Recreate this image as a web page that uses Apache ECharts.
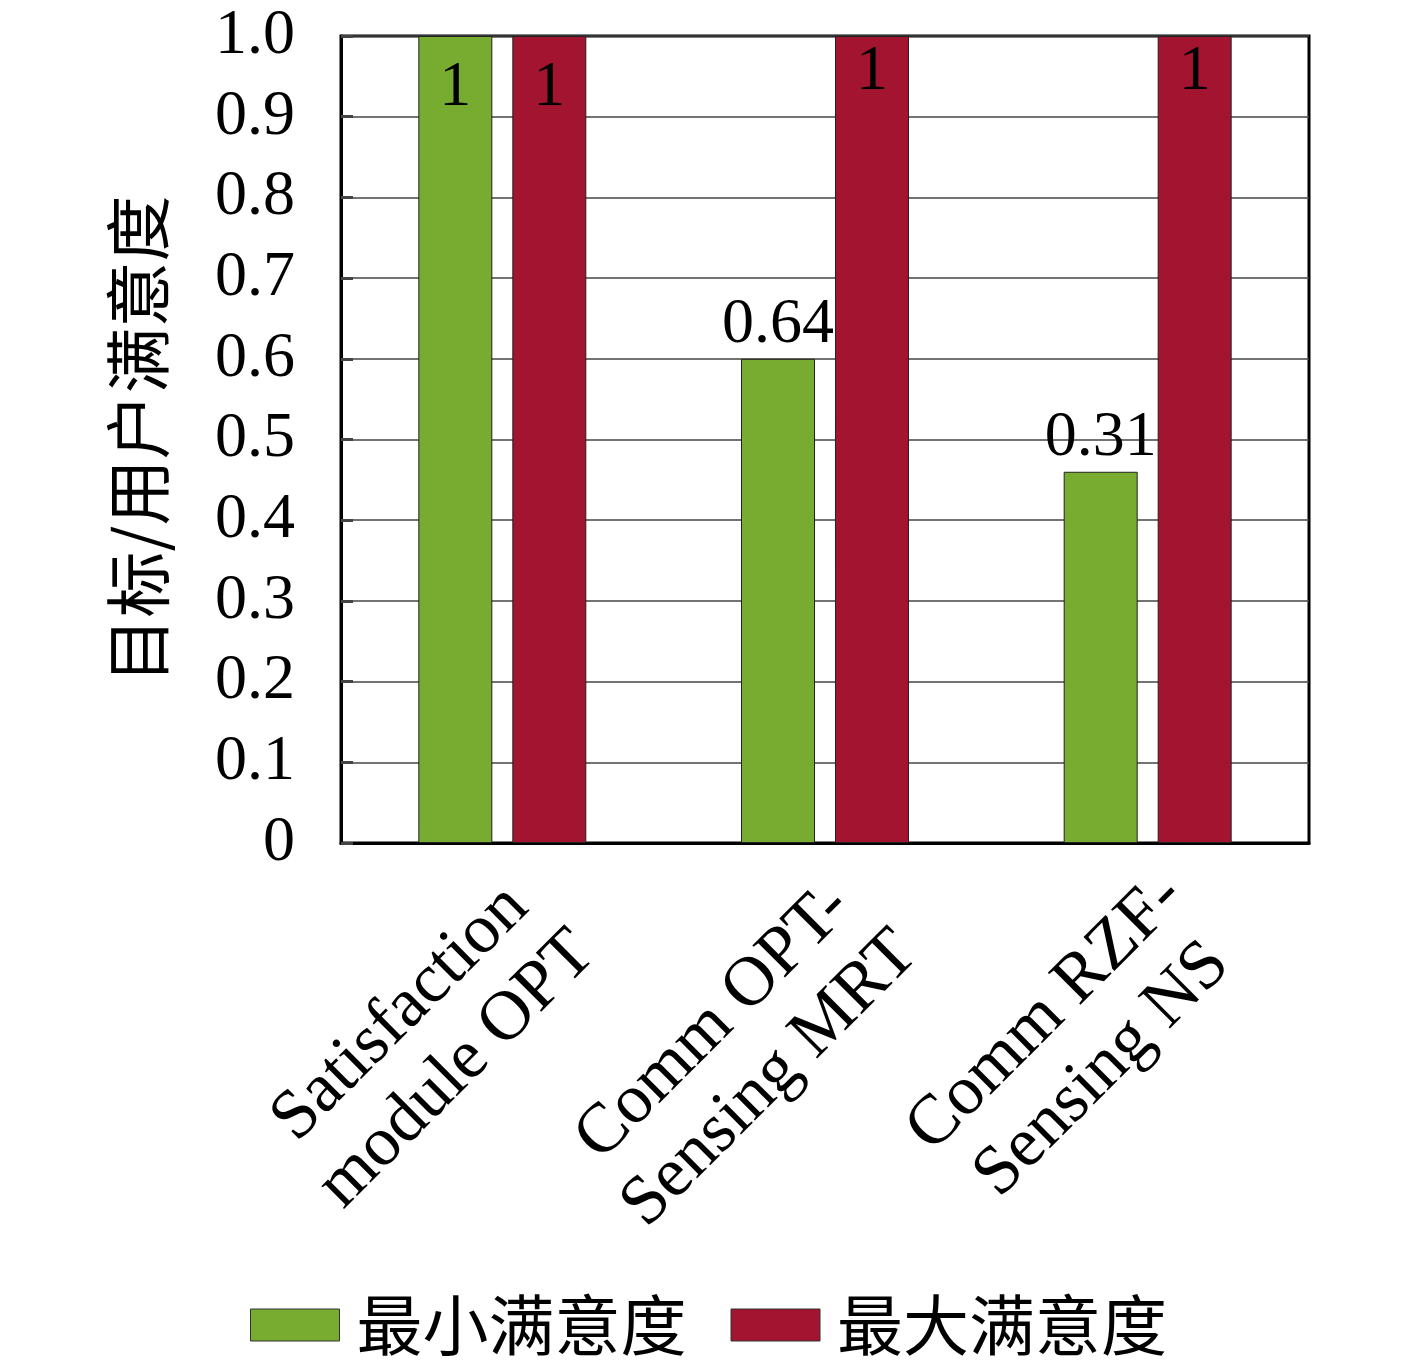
<!DOCTYPE html>
<html>
<head>
<meta charset="utf-8">
<script src="https://cdn.jsdelivr.net/npm/echarts@6/dist/echarts.min.js"></script>
<style>
  html, body { margin: 0; padding: 0; background: #fff; }
  #chart { width: 1417px; height: 1365px; }
</style>
</head>
<body>
<div id="chart"></div>
<script>
// 数据
var categories = ['Satisfaction\nmodule OPT', 'Comm OPT-\nSensing MRT', 'Comm RZF-\nSensing NS'];
var minValues = [1, 0.6, 0.46];
var maxValues = [1, 1, 1];
var minLabels = ['1', '0.64', '0.31'];
var maxLabels = ['1', '1', '1'];
var seriesNames = ['最小满意度', '最大满意度'];

var serif = '"Liberation Serif", "DejaVu Serif", serif';
var cjk = '"Noto Sans CJK SC", sans-serif';

var chart = echarts.init(document.getElementById('chart'));

// 最小满意度：第一组标签在柱内，其余在柱顶
var minData = minValues.map(function (v, i) {
  return {
    value: v,
    label: i === 0
      ? { position: 'insideTop', distance: 20 }
      : { position: 'top', distance: 2 }
  };
});
var maxData = maxValues.map(function (v, i) {
  return {
    value: v,
    label: { position: 'insideTop', distance: i === 0 ? 20 : 4 }
  };
});

var option = {
  backgroundColor: '#fff',
  animation: false,
  grid: {
    left: 341, right: 108, top: 36, bottom: 522,
    show: true, borderColor: '#000', borderWidth: 3
  },
  legend: {
    bottom: 2,
    left: 'center',
    itemWidth: 89,
    itemHeight: 32,
    itemGap: 44,
    icon: 'rect',
    itemStyle: { borderColor: '#333', borderWidth: 1 },
    textStyle: { fontFamily: cjk, fontSize: 66, color: '#000', padding: [0, 0, 0, 12] },
    data: seriesNames
  },
  xAxis: {
    type: 'category',
    data: categories,
    axisLine: { lineStyle: { color: '#000', width: 3 } },
    axisTick: { show: false },
    axisLabel: {
      rotate: 45,
      margin: 12,
      align: 'right',
      verticalAlign: 'top',
      padding: [0, 4, 0, 0],
      color: '#000',
      // 每行居中
      formatter: function (v) {
        return v.split('\n').map(function (s) { return '{c|' + s + '}'; }).join('\n');
      },
      rich: {
        c: { align: 'center', fontFamily: serif, fontSize: 70, lineHeight: 80, color: '#000' }
      }
    }
  },
  yAxis: {
    type: 'value',
    min: 0,
    max: 1,
    interval: 0.1,
    name: '目标/用户满意度',
    nameLocation: 'middle',
    nameRotate: 90,
    nameGap: 170,
    nameTextStyle: { fontFamily: cjk, fontSize: 66, color: '#000' },
    axisLine: { show: true, lineStyle: { color: '#000', width: 3 } },
    axisTick: { show: true, inside: true, length: 12, lineStyle: { color: '#444', width: 3 } },
    splitLine: { lineStyle: { color: '#444', width: 1.5 } },
    axisLabel: {
      margin: 46,
      fontFamily: serif,
      fontSize: 64,
      color: '#000',
      formatter: function (v) {
        if (v === 0) return '0';
        return v.toFixed(1);
      }
    }
  },
  series: [
    {
      name: seriesNames[0],
      type: 'bar',
      data: minData,
      barWidth: 74,
      barGap: '27%',
      itemStyle: { color: '#77AC30', borderColor: '#222', borderWidth: 1 },
      label: {
        show: true,
        fontFamily: serif,
        fontSize: 64,
        color: '#000',
        formatter: function (p) { return minLabels[p.dataIndex]; }
      }
    },
    {
      name: seriesNames[1],
      type: 'bar',
      data: maxData,
      barWidth: 74,
      itemStyle: { color: '#A2142F', borderColor: '#222', borderWidth: 1 },
      label: {
        show: true,
        fontFamily: serif,
        fontSize: 64,
        color: '#000',
        formatter: function (p) { return maxLabels[p.dataIndex]; }
      }
    }
  ]
};

chart.setOption(option);
</script>
</body>
</html>
